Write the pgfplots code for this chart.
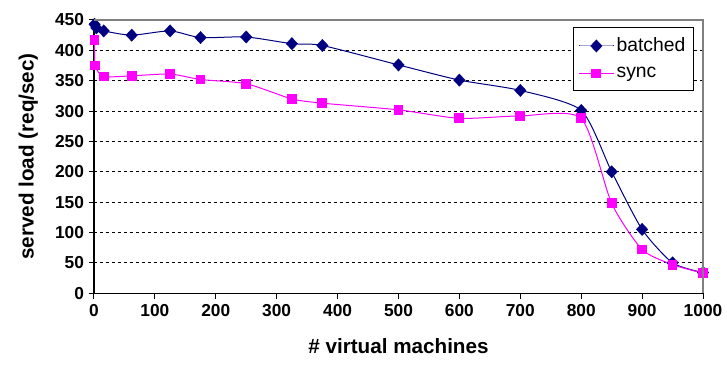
\documentclass[border=0pt]{standalone}
\usepackage{pgfplots}
\pgfplotsset{compat=1.18}
\usepackage{fontspec}
\setmainfont{Liberation Sans}
\definecolor{navyb}{RGB}{0,0,128}
\definecolor{magen}{RGB}{255,0,255}
\begin{document}
\begin{tikzpicture}
\begin{axis}[
  scale only axis,
  width=457pt, height=205pt,
  xmin=0, xmax=1000, ymin=0, ymax=450,
  xtick={0,100,...,1000},
  ytick={0,50,...,450},
  axis x line*=bottom, axis y line*=left,
  axis line style={black, line width=0.9pt, -},
  tick align=outside,
  major tick length=4pt,
  tick style={black, line width=0.75pt},
  ymajorgrids,
  grid style={black, line width=0.75pt, dash pattern=on 2.25pt off 2.25pt},
  /pgf/number format/assume math mode=true,
  /pgf/number format/1000 sep={},
  tick label style={font=\bfseries\fontsize{13}{15}\selectfont},
  xticklabel style={yshift=-1pt},
  every axis y label/.style={at={(axis description cs:-0.108,0.5)}, rotate=90, anchor=center, font=\bfseries\fontsize{15.5}{18}\selectfont},
  every axis x label/.style={at={(axis description cs:0.5,-0.195)}, anchor=center, font=\bfseries\fontsize{15.5}{18}\selectfont},
  xlabel={\# virtual machines},
  ylabel={served load (req/sec)},
  clip=false,
  legend style={at={(0.985,0.975)}, anchor=north east, draw=black, line width=0.75pt,
    font=\fontsize{14.5}{17}\selectfont, inner xsep=4pt, inner ysep=6pt, row sep=6pt, fill=white},
  legend cell align=left,
  legend image code/.code={\draw[#1, mark repeat=2, mark phase=2] plot coordinates {(0cm,0cm) (0.45cm,0cm) (0.9cm,0cm)};},
  after end axis/.code={\draw[gray, line width=0.9pt] (rel axis cs:0,1) -- (rel axis cs:1,1) -- (rel axis cs:1,0);},
]
\addplot[navyb, line width=0.75pt, smooth, tension=0.4, mark=diamond*, mark size=4.6pt, mark options={solid, xscale=1.25, fill=navyb, line width=0.3pt}]
  coordinates {
  (1,443) (4,437) (16,432) (62,425) (125,432) (175,421) (250,422) (325,411) (375,408)
  (500,376) (600,351) (700,334) (800,301) (850,200) (900,105) (950,50) (1000,34)};
\addlegendentry{batched}
\addplot[magen, line width=0.75pt, smooth, tension=0.4, mark=square*, mark size=3.3pt, mark options={solid, fill=magen}]
  coordinates {
  (1,417) (2,375) (16,357) (62,358) (125,361) (175,352) (250,345) (325,320) (375,313)
  (500,302) (600,288) (700,292) (800,288) (850,148) (900,72) (950,47) (1000,33)};
\addlegendentry{sync}
\end{axis}
\pgfresetboundingbox
\path[use as bounding box] ([xshift=-70.5pt,yshift=-58.5pt]current axis.south west) rectangle ([xshift=18pt,yshift=15pt]current axis.north east);
\end{tikzpicture}
\end{document}
